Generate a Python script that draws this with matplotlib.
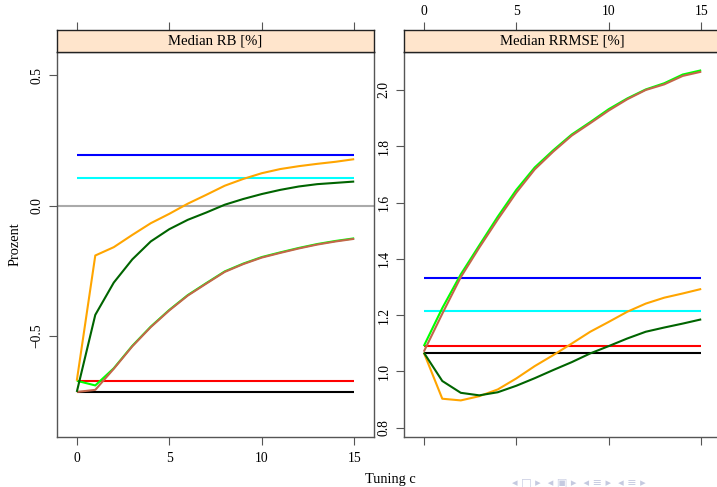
import numpy as np
import matplotlib
matplotlib.use("Agg")
import matplotlib.pyplot as plt

plt.rcParams['font.family'] = ['Liberation Serif', 'DejaVu Serif']

tuning = list(range(16))

# Median RB [%]
rb_black = [-0.716] * 16
rb_red = [-0.673] * 16
rb_blue = [0.195] * 16
rb_cyan = [0.106] * 16
rb_orange = [-0.673, -0.192, -0.160, -0.113, -0.068, -0.032, 0.007, 0.041,
             0.076, 0.102, 0.124, 0.140, 0.151, 0.160, 0.168, 0.178]
rb_darkgreen = [-0.716, -0.420, -0.296, -0.207, -0.138, -0.091, -0.055, -0.027,
                0.003, 0.025, 0.044, 0.060, 0.073, 0.082, 0.087, 0.092]
rb_green = [-0.673, -0.691, -0.625, -0.539, -0.465, -0.401, -0.344, -0.298,
            -0.253, -0.223, -0.198, -0.180, -0.163, -0.148, -0.136, -0.126]
rb_brown = [-0.716, -0.708, -0.627, -0.541, -0.467, -0.403, -0.346, -0.300,
            -0.255, -0.225, -0.200, -0.182, -0.165, -0.150, -0.138, -0.128]

# Median RRMSE [%]
rr_black = [1.067] * 16
rr_red = [1.089] * 16
rr_blue = [1.333] * 16
rr_cyan = [1.215] * 16
rr_orange = [1.067, 0.903, 0.897, 0.912, 0.936, 0.975, 1.019, 1.058,
             1.099, 1.141, 1.176, 1.212, 1.241, 1.262, 1.277, 1.293]
rr_darkgreen = [1.067, 0.966, 0.924, 0.915, 0.926, 0.949, 0.976, 1.005,
                1.033, 1.064, 1.090, 1.117, 1.141, 1.156, 1.170, 1.185]
rr_green = [1.090, 1.225, 1.345, 1.448, 1.550, 1.645, 1.725, 1.786,
            1.842, 1.886, 1.932, 1.970, 2.002, 2.024, 2.055, 2.070]
rr_brown = [1.070, 1.205, 1.335, 1.440, 1.540, 1.635, 1.718, 1.781,
            1.838, 1.882, 1.927, 1.967, 2.000, 2.020, 2.050, 2.065]

panel_titles = ["Median RB [%]", "Median RRMSE [%]"]
x_ticks = [0, 5, 10, 15]
rb_ticks = [-0.5, 0.0, 0.5]
rr_ticks = [0.8, 1.0, 1.2, 1.4, 1.6, 1.8, 2.0]

W, H = 717, 487
fig = plt.figure(figsize=(W / 100, H / 100), dpi=100)

frame_col = "#555555"
strip_col = "#FFE5CC"
BROWN = "#C4664A"


def fx(px):
    return px / W


def fy(py):
    return 1 - py / H


panels = [
    dict(left=57, right=374, data=(rb_black, rb_red, rb_blue, rb_cyan, rb_green, rb_brown,
                                   rb_orange, rb_darkgreen),
         ylim=(-0.889, 0.5895), yticks=rb_ticks, ylabels=["\u22120.5", "0.0", "0.5"],
         bottom_labels=True, top_labels=False, zero=True),
    dict(left=404, right=721, data=(rr_black, rr_red, rr_blue, rr_cyan, rr_green, rr_brown,
                                    rr_orange, rr_darkgreen),
         ylim=(0.767, 2.135), yticks=rr_ticks, ylabels=[f"{v:.1f}" for v in rr_ticks],
         bottom_labels=False, top_labels=True, zero=False),
]

top, strip_top, bottom = 52, 30, 437
colors = ["black", "#FF0000", "#0000FF", "#00FFFF", "#00FF00", BROWN, "#FFA500", "#006400"]

for i, p in enumerate(panels):
    ax = fig.add_axes([fx(p['left']), fy(bottom), fx(p['right'] - p['left']), (bottom - top) / H])
    sax = fig.add_axes([fx(p['left']), fy(top), fx(p['right'] - p['left']), (top - strip_top) / H],
                       sharex=ax)
    ax.set_xlim(-1.07, 16.07)
    ax.set_ylim(*p['ylim'])
    if p['zero']:
        ax.axhline(0.0, color="#AAAAAA", lw=1.5, zorder=1)
    for series, c in zip(p['data'], colors):
        ax.plot(tuning, series, color=c, lw=1.5, zorder=2, solid_capstyle='butt')
    for s in ax.spines.values():
        s.set_color(frame_col)
        s.set_linewidth(1.0)
    ax.set_yticks(p['yticks'])
    ax.set_yticklabels(p['ylabels'], rotation=90, va='center')
    ax.set_xticks(x_ticks)
    ax.tick_params(axis='both', direction='out', length=5.8, width=0.8, color=frame_col,
                   labelsize=9.8, pad=4)
    ax.tick_params(axis='x', top=False, labelbottom=p['bottom_labels'], pad=5)
    # strip
    sax.set_facecolor(strip_col)
    sax.set_ylim(0, 1)
    sax.set_yticks([])
    for s in sax.spines.values():
        s.set_color("#222222")
        s.set_linewidth(1.0)
    sax.tick_params(axis='x', which='both', bottom=False, labelbottom=False, top=True,
                    labeltop=p['top_labels'], direction='out', length=5.5, width=0.8,
                    color=frame_col, labelsize=9.8, pad=3)
    sax.text(0.5, 0.5, panel_titles[i], transform=sax.transAxes, ha='center', va='center',
             fontsize=10.6)

fig.text(fx(15), fy(244.5), "Prozent", rotation=90, ha='center', va='center', fontsize=10.4)
fig.text(fx(390), fy(479), "Tuning c", ha='center', va='center', fontsize=10.4)

# faint beamer navigation symbols
nav = "\u25C2 \u25A1 \u25B8  \u25C2 \u25A3 \u25B8  \u25C2 \u2261 \u25B8  \u25C2 \u2261 \u25B8"
fig.text(fx(512), fy(482), nav, ha='left', va='center', fontsize=8, color="#C5CAE0",
         family=['DejaVu Sans'])

fig.savefig("out.png", dpi=100)
